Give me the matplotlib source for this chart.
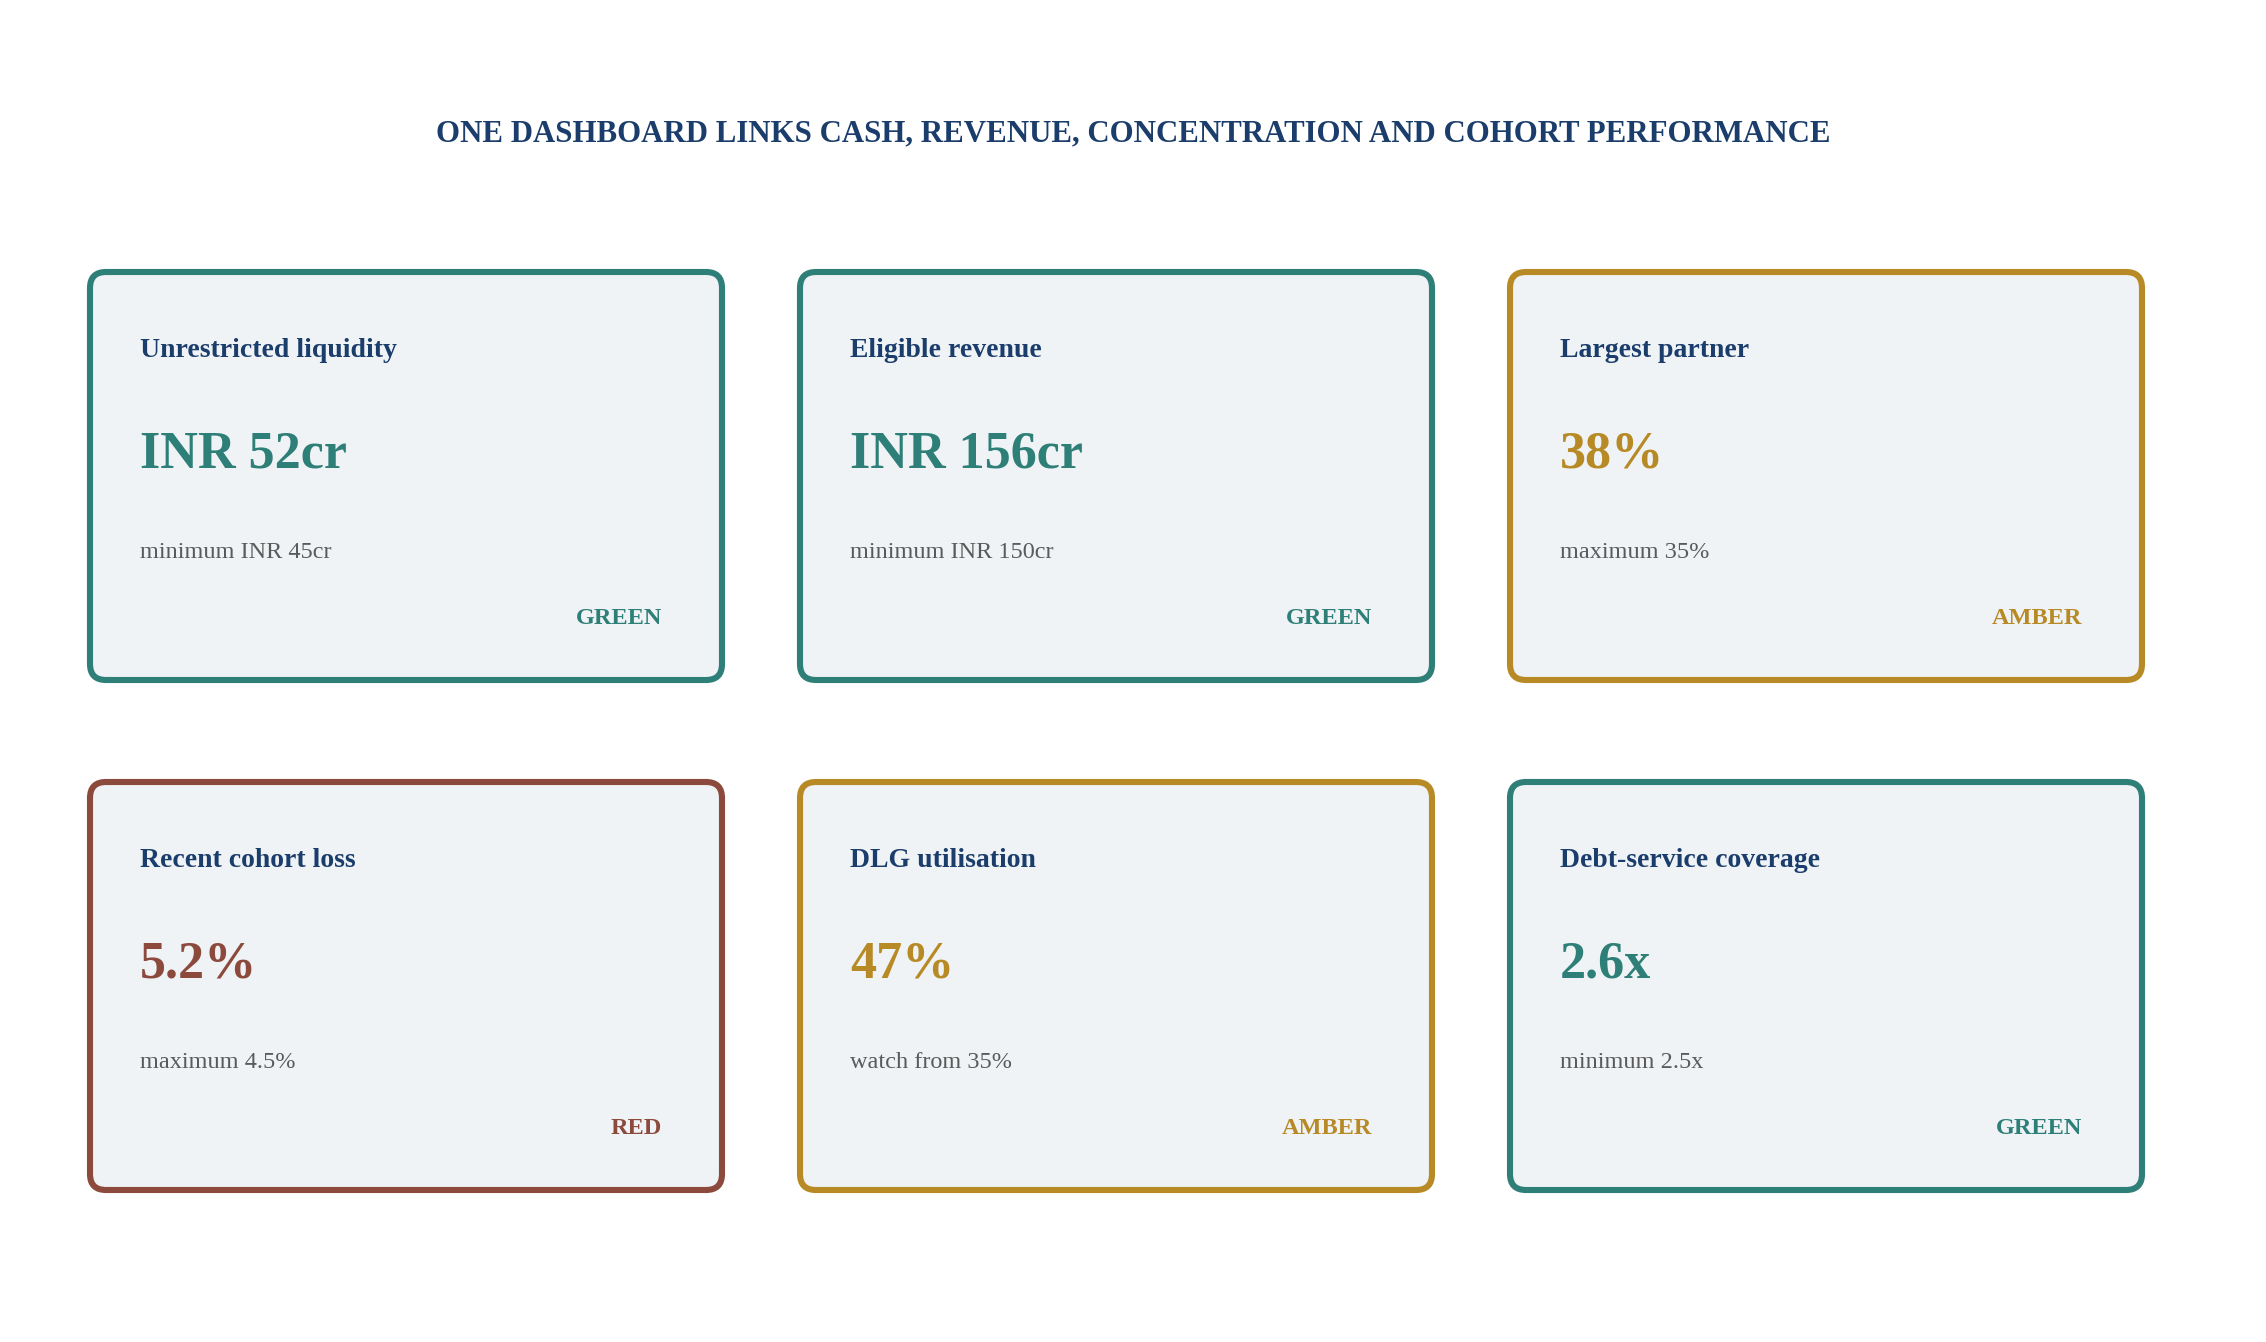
import matplotlib
matplotlib.use("Agg")
import matplotlib.pyplot as plt
from matplotlib.patches import FancyBboxPatch

plt.rcParams['font.family'] = ['Liberation Serif', 'DejaVu Serif']

# data
title = "ONE DASHBOARD LINKS CASH, REVENUE, CONCENTRATION AND COHORT PERFORMANCE"
labels = ["Unrestricted liquidity", "Eligible revenue", "Largest partner",
          "Recent cohort loss", "DLG utilisation", "Debt-service coverage"]
values = ["INR 52cr", "INR 156cr", "38%", "5.2%", "47%", "2.6x"]
limits = ["minimum INR 45cr", "minimum INR 150cr", "maximum 35%",
          "maximum 4.5%", "watch from 35%", "minimum 2.5x"]
status = ["GREEN", "GREEN", "AMBER", "RED", "AMBER", "GREEN"]

colors = {"GREEN": "#2E7F78", "AMBER": "#B78A26", "RED": "#8C4A3C"}
navy = "#1B3D6B"
fill = "#EFF3F6"
grey = "#5A5A5A"

W, H = 2266, 1342
fig = plt.figure(figsize=(W / 100, H / 100), dpi=100)
ax = fig.add_axes([0, 0, 1, 1])
ax.set_xlim(0, W)
ax.set_ylim(H, 0)
ax.axis('off')

ax.text(W / 2, 141, title, ha='center', va='baseline', fontsize=22.2,
        fontweight='bold', color=navy)

# card grid (pixels)
x0, y0 = 90, 272
cw, ch = 632, 408
dx, dy = 710, 510

for i in range(len(labels)):
    r, c = divmod(i, 3)
    left = x0 + c * dx
    top = y0 + r * dy
    col = colors[status[i]]
    box = FancyBboxPatch((left, top), cw, ch,
                         boxstyle="round,pad=0,rounding_size=16",
                         facecolor=fill, edgecolor=col, linewidth=4.4)
    ax.add_patch(box)
    tx = left + 50
    ax.text(tx, top + 85, labels[i], ha='left', va='baseline', fontsize=20,
            fontweight='bold', color=navy)
    ax.text(tx, top + 195, values[i], ha='left', va='baseline', fontsize=37.5,
            fontweight='bold', color=col)
    ax.text(tx, top + 286, limits[i], ha='left', va='baseline', fontsize=17.5,
            color=grey)
    ax.text(left + cw - 60, top + 352, status[i], ha='right', va='baseline',
            fontsize=17.5, fontweight='bold', color=col)

fig.savefig("out.png", dpi=100, facecolor='white')
